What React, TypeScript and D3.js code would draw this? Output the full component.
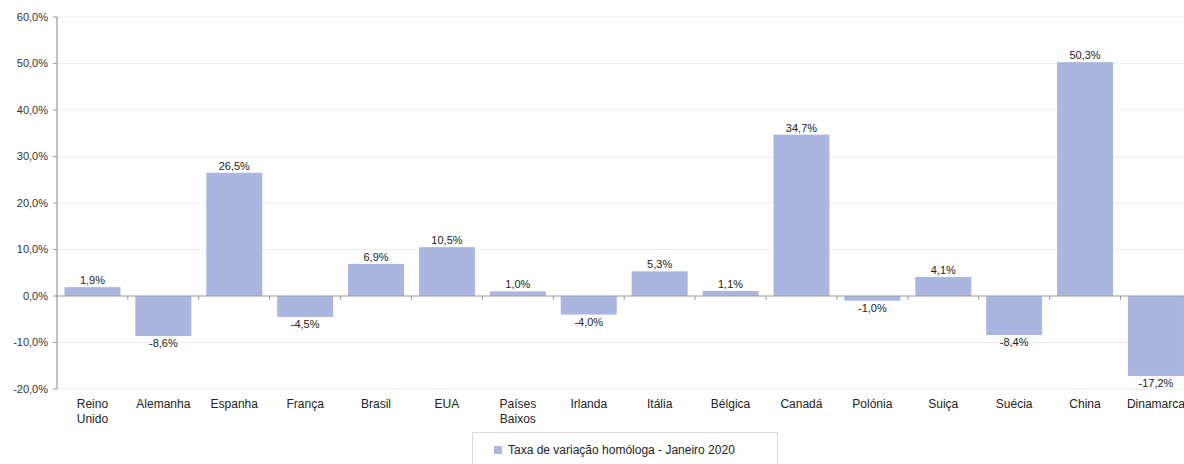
import React from "react";
import * as d3 from "d3";

const categories = ["Reino Unido", "Alemanha", "Espanha", "França", "Brasil", "EUA", "Países Baixos", "Irlanda", "Itália", "Bélgica", "Canadá", "Polónia", "Suiça", "Suécia", "China", "Dinamarca"];
const values = [1.9, -8.6, 26.5, -4.5, 6.9, 10.5, 1.0, -4.0, 5.3, 1.1, 34.7, -1.0, 4.1, -8.4, 50.3, -17.2];
const yTicks = [60, 50, 40, 30, 20, 10, 0, -10, -20];
const seriesName = "Taxa de variação homóloga - Janeiro 2020";

const W = 1184, H = 464;
const STEP = 70.9;
const fmt = (v: number) => v.toFixed(1).replace(".", ",") + "%";

export default function App() {
  const x = d3.scaleBand<string>().domain(categories).range([57, 57 + 16 * STEP]).paddingInner(0.21).paddingOuter(0.105);
  const y = d3.scaleLinear().domain([-20, 60]).range([389, 17]);
  const font = "'Liberation Sans', Arial, sans-serif";
  const color = "#abb6e0";
  return (
    <svg width={W} height={H} style={{ position: "absolute", left: 0, top: 0, fontFamily: font }}>
      <rect width={W} height={H} fill="#fff" />
      {yTicks.map(t => (
        <g key={t}>
          {t !== 0 && <line x1={57} x2={W} y1={y(t)} y2={y(t)} stroke="#eeeeee" strokeWidth={1} />}
          <line x1={53} x2={57} y1={y(t)} y2={y(t)} stroke="#999" />
          <text x={48} y={y(t)} dy="0.35em" textAnchor="end" fontSize={11} fill="#333">{fmt(t)}</text>
        </g>
      ))}
      {categories.map((c, i) => {
        const v = values[i];
        const bx = x(c)!;
        const y0 = y(0), y1 = y(v);
        return (
          <g key={c}>
            <rect x={bx} width={x.bandwidth()} y={Math.min(y0, y1)} height={Math.abs(y1 - y0)} fill={color} />
            <text x={bx + x.bandwidth() / 2} y={v >= 0 ? y1 - 3 : y1 + 11} textAnchor="middle" fontSize={11} fill="#222">{fmt(v)}</text>
          </g>
        );
      })}
      <line x1={57} x2={W} y1={y(0)} y2={y(0)} stroke="#999" strokeWidth={1.2} />
      {categories.map((c, i) => (
        <line key={"t" + i} x1={57 + (i + 1) * STEP} x2={57 + (i + 1) * STEP} y1={y(0)} y2={y(0) + 4} stroke="#999" />
      ))}
      <line x1={57} x2={57} y1={17} y2={389} stroke="#999" strokeWidth={1.2} />
      {categories.map(c => {
        const cx = x(c)! + x.bandwidth() / 2;
        const words = c.split(" ");
        return (
          <text key={"l" + c} x={cx} y={408} textAnchor="middle" fontSize={12} fill="#222">
            {words.map((w, k) => <tspan key={k} x={cx} dy={k === 0 ? 0 : 15}>{w}</tspan>)}
          </text>
        );
      })}
      <rect x={472.5} y={432.5} width={305} height={40} fill="#fff" stroke="#d9d9d9" />
      <rect x={494} y={446} width={8} height={8} fill={color} />
      <text x={508} y={454} fontSize={12} fill="#222">{seriesName}</text>
    </svg>
  );
}
